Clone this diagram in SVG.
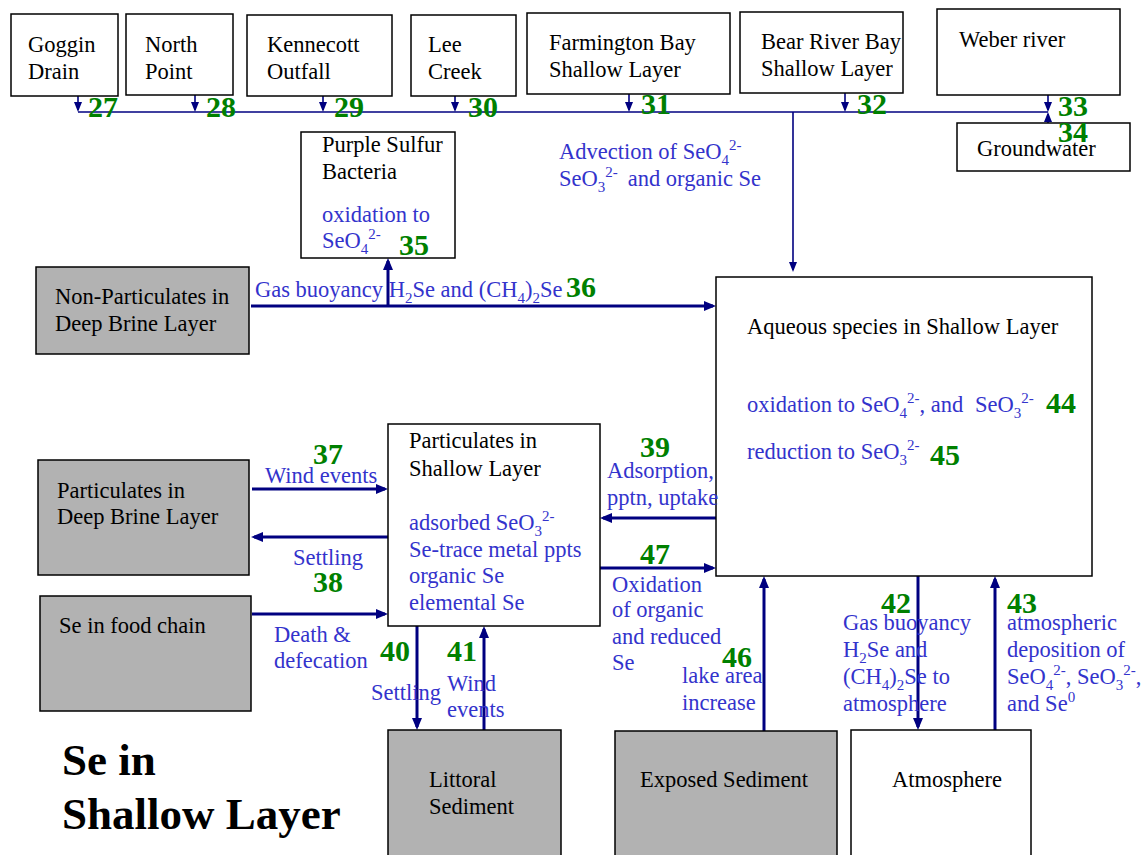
<svg xmlns="http://www.w3.org/2000/svg" width="1144" height="855" viewBox="0 0 1144 855">
<style>
.box{fill:#fff;stroke:#000;stroke-width:1.5}
.gbox{fill:#b2b2b2;stroke:#000;stroke-width:1.5}
text{font-family:"Liberation Serif","Times New Roman",serif;font-size:22.5px;fill:#000}
.b{fill:#3333cc}
.n{font-weight:bold;font-size:30px;fill:#008000}
.title{font-weight:bold;font-size:45px}
.sm{font-size:15px}
.a{stroke:#000080;stroke-width:3;fill:none;marker-end:url(#ah)}
.as{stroke:#000080;stroke-width:1.6;fill:none;marker-end:url(#ahs)}
.l{stroke:#000080;stroke-width:1.6;fill:none}
</style>
<defs>
<marker id="ah" viewBox="0 0 12 10" refX="9" refY="5" markerWidth="12" markerHeight="10" markerUnits="userSpaceOnUse" orient="auto"><path d="M0,0 L12,5 L0,10 z" fill="#000080"/></marker>
<marker id="ahs" viewBox="0 0 10 8" refX="8" refY="4" markerWidth="10" markerHeight="8" markerUnits="userSpaceOnUse" orient="auto"><path d="M0,0 L10,4 L0,8 z" fill="#000080"/></marker>
</defs>

<g id="connectors">
<path class="l" d="M78,112 H1048"/>
<path class="as" d="M78,96 V110"/>
<path class="as" d="M195,95 V110"/>
<path class="as" d="M323,96 V110"/>
<path class="as" d="M455,96 V110"/>
<path class="as" d="M629,94 V110"/>
<path class="as" d="M845,93 V110"/>
<path class="as" d="M1048,95 V110"/>
<path class="as" d="M1048,128 V114"/>
<path class="l" d="M793,112 V270" style="marker-end:url(#ahs)"/>
<path class="a" d="M251,306 H713"/>
<path class="a" d="M388,306 V261"/>
<path class="a" d="M252,489 H385"/>
<path class="a" d="M388,537 H254"/>
<path class="a" d="M252,614 H385"/>
<path class="a" d="M716,518 H603"/>
<path class="a" d="M600,568 H713"/>
<path class="a" d="M417,626 V727"/>
<path class="a" d="M484,730 V629"/>
<path class="a" d="M764,731 V579"/>
<path class="a" d="M918,576 V727"/>
<path class="a" d="M995,730 V579"/>
</g>

<g id="goggin"><rect class="box" x="11" y="14" width="107" height="82"/><text x="28" y="52">Goggin</text><text x="28" y="79">Drain</text></g>
<g id="northpoint"><rect class="box" x="126" y="14" width="107" height="81"/><text x="145" y="52">North</text><text x="145" y="79">Point</text></g>
<g id="kennecott"><rect class="box" x="247" y="15" width="145" height="81"/><text x="267" y="52">Kennecott</text><text x="267" y="79">Outfall</text></g>
<g id="leecreek"><rect class="box" x="411" y="15" width="105" height="81"/><text x="428" y="52">Lee</text><text x="428" y="79">Creek</text></g>
<g id="farmington"><rect class="box" x="527" y="13" width="203" height="81"/><text x="549" y="50">Farmington Bay</text><text x="549" y="77">Shallow Layer</text></g>
<g id="bearriver"><rect class="box" x="740" y="12" width="163" height="81"/><text x="761" y="49">Bear River Bay</text><text x="761" y="76">Shallow Layer</text></g>
<g id="weber"><rect class="box" x="937" y="9" width="183" height="86"/><text x="959" y="47">Weber river</text></g>
<g id="groundwater"><rect class="box" x="957" y="123" width="173" height="48"/><text x="977" y="156">Groundwater</text></g>

<g id="labels-top">
<text class="n" x="88" y="117">27</text>
<text class="n" x="206" y="117">28</text>
<text class="n" x="334" y="117">29</text>
<text class="n" x="468" y="117">30</text>
<text class="n" x="641" y="114">31</text>
<text class="n" x="857" y="114">32</text>
<text class="n" x="1058" y="116">33</text>
<text class="n" x="1058" y="142">34</text>
<text class="b" x="559" y="159">Advection of SeO<tspan class="sm" dy="6">4</tspan><tspan class="sm" dy="-15">2-</tspan></text>
<text class="b" x="559" y="186">SeO<tspan class="sm" dy="6">3</tspan><tspan class="sm" dy="-15">2-</tspan><tspan dy="9" dx="10">and organic Se</tspan></text>
</g>

<g id="purple"><rect class="box" x="301" y="132" width="154" height="126"/><text x="322" y="152">Purple Sulfur</text><text x="322" y="179">Bacteria</text>
<text class="b" x="322" y="222">oxidation to</text>
<text class="b" x="322" y="248">SeO<tspan class="sm" dy="6">4</tspan><tspan class="sm" dy="-15">2-</tspan></text>
<text class="n" x="399" y="255">35</text></g>

<g id="nonpart"><rect class="gbox" x="36" y="267" width="213" height="87"/><text x="55" y="304">Non-Particulates in</text><text x="55" y="331">Deep Brine Layer</text></g>

<text class="b" x="255" y="297">Gas buoyancy H<tspan class="sm" dy="6">2</tspan><tspan dy="-6">Se and (CH</tspan><tspan class="sm" dy="6">4</tspan><tspan dy="-6">)</tspan><tspan class="sm" dy="6">2</tspan><tspan dy="-6">Se</tspan></text>
<text class="n" x="566" y="297">36</text>

<g id="aqueous"><rect class="box" x="716" y="277" width="376" height="299"/>
<text x="747" y="334">Aqueous species in Shallow Layer</text>
<text class="b" x="747" y="412">oxidation to SeO<tspan class="sm" dy="6">4</tspan><tspan class="sm" dy="-15">2-</tspan><tspan dy="9">, and </tspan><tspan dx="6">SeO</tspan><tspan class="sm" dy="6">3</tspan><tspan class="sm" dy="-15">2-</tspan></text>
<text class="n" x="1046" y="413">44</text>
<text class="b" x="747" y="459">reduction to SeO<tspan class="sm" dy="6">3</tspan><tspan class="sm" dy="-15">2-</tspan></text>
<text class="n" x="930" y="465">45</text></g>

<g id="partdeep"><rect class="gbox" x="38" y="460" width="211" height="115"/><text x="57" y="498">Particulates in</text><text x="57" y="524">Deep Brine Layer</text></g>
<g id="foodchain"><rect class="gbox" x="40" y="596" width="211" height="115"/><text x="59" y="633">Se in food chain</text></g>

<g id="partshallow"><rect class="box" x="388" y="424" width="212" height="202"/>
<text x="409" y="448">Particulates in</text><text x="409" y="476">Shallow Layer</text>
<text class="b" x="409" y="530">adsorbed SeO<tspan class="sm" dy="6">3</tspan><tspan class="sm" dy="-15">2-</tspan></text>
<text class="b" x="409" y="557">Se-trace metal ppts</text>
<text class="b" x="409" y="583">organic Se</text>
<text class="b" x="409" y="610">elemental Se</text></g>

<g id="flowlabels">
<text class="n" x="313" y="464">37</text>
<text class="b" x="265" y="483">Wind events</text>
<text class="b" x="293" y="565">Settling</text>
<text class="n" x="313" y="592">38</text>
<text class="b" x="274" y="642">Death &amp;</text>
<text class="b" x="274" y="668">defecation</text>
<text class="n" x="640" y="457">39</text>
<text class="b" x="607" y="478">Adsorption,</text>
<text class="b" x="607" y="505">pptn, uptake</text>
<text class="n" x="640" y="564">47</text>
<text class="b" x="612" y="592">Oxidation</text>
<text class="b" x="612" y="617">of organic</text>
<text class="b" x="612" y="644">and reduced</text>
<text class="b" x="612" y="670">Se</text>
<text class="n" x="380" y="661">40</text>
<text class="n" x="447" y="661">41</text>
<text class="b" x="371" y="700">Settling</text>
<text class="b" x="447" y="691">Wind</text>
<text class="b" x="447" y="717">events</text>
<text class="n" x="722" y="667">46</text>
<text class="b" x="682" y="683">lake area</text>
<text class="b" x="682" y="710">increase</text>
<text class="n" x="881" y="613">42</text>
<text class="b" x="843" y="630">Gas buoyancy</text>
<text class="b" x="843" y="657">H<tspan class="sm" dy="6">2</tspan><tspan dy="-6">Se and</tspan></text>
<text class="b" x="843" y="684">(CH<tspan class="sm" dy="6">4</tspan><tspan dy="-6">)</tspan><tspan class="sm" dy="6">2</tspan><tspan dy="-6">Se to</tspan></text>
<text class="b" x="843" y="711">atmosphere</text>
<text class="n" x="1007" y="613">43</text>
<text class="b" x="1007" y="630">atmospheric</text>
<text class="b" x="1007" y="657">deposition of</text>
<text class="b" x="1007" y="684">SeO<tspan class="sm" dy="6">4</tspan><tspan class="sm" dy="-15">2-</tspan><tspan dy="9">, SeO</tspan><tspan class="sm" dy="6">3</tspan><tspan class="sm" dy="-15">2-</tspan><tspan dy="9">,</tspan></text>
<text class="b" x="1007" y="711">and Se<tspan class="sm" dy="-9">0</tspan></text>
</g>

<g id="littoral"><rect class="gbox" x="388" y="730" width="173" height="140"/><text x="429" y="787">Littoral</text><text x="429" y="814">Sediment</text></g>
<g id="exposed"><rect class="gbox" x="615" y="731" width="222" height="140"/><text x="640" y="787">Exposed Sediment</text></g>
<g id="atmosphere"><rect class="box" x="851" y="730" width="180" height="140"/><text x="892" y="787">Atmosphere</text></g>

<g id="title"><text class="title" x="62" y="775">Se in</text><text class="title" x="62" y="829">Shallow Layer</text></g>
</svg>
